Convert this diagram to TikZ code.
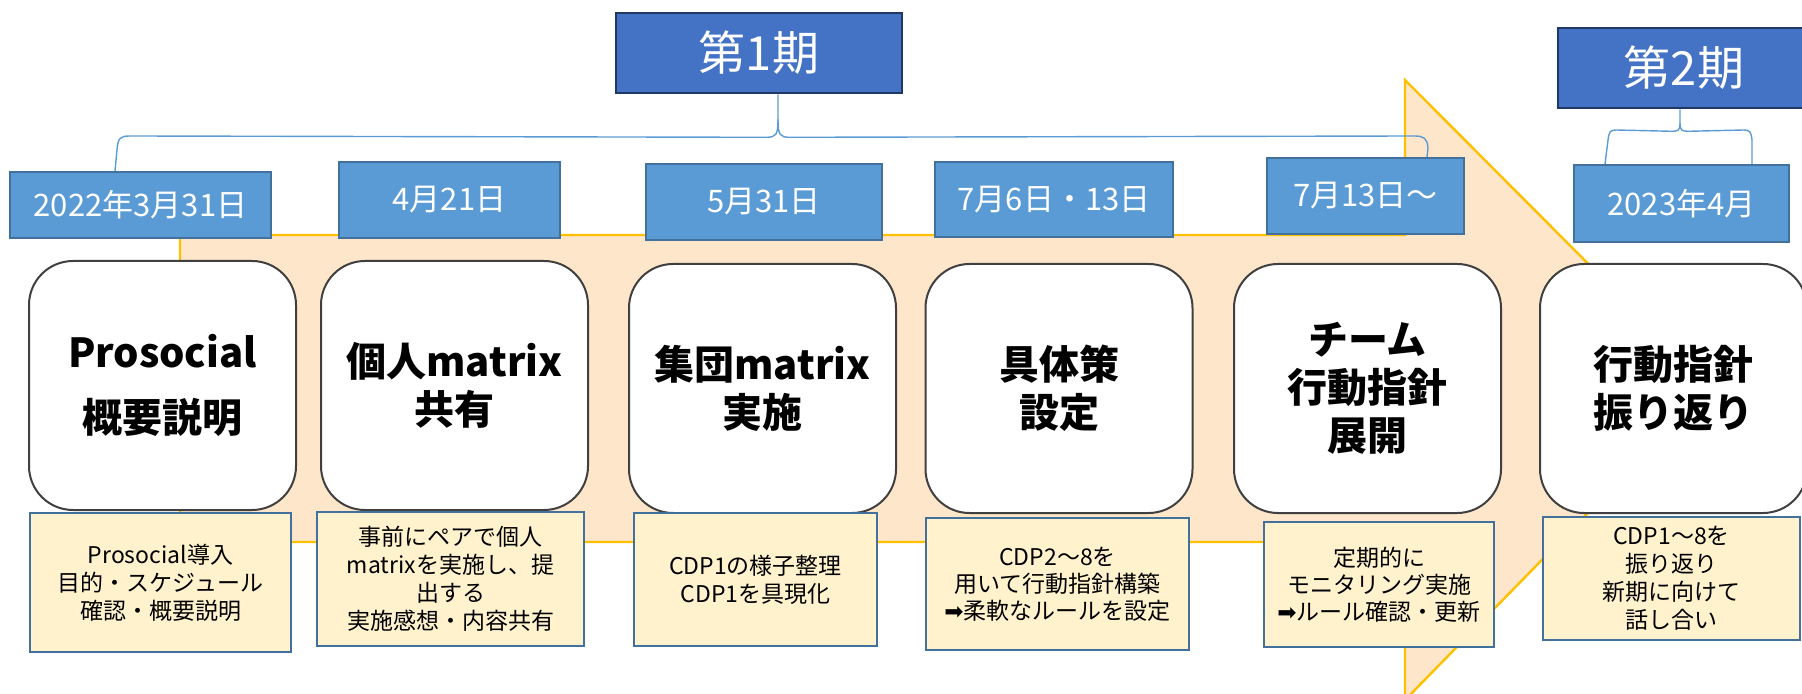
\documentclass[tikz,border=0pt]{standalone}
\usepackage{fontspec}
\setmainfont{Noto Sans CJK JP}
\newfontfamily\symfont{DejaVu Sans}
\usetikzlibrary{calc}
\definecolor{phasefill}{HTML}{4472C4}
\definecolor{phaseline}{HTML}{1F3864}
\definecolor{datefill}{HTML}{5B9BD5}
\definecolor{dateline}{HTML}{41719C}
\definecolor{notefill}{HTML}{FFF2CC}
\definecolor{noteline}{HTML}{41719C}
\definecolor{arrowfill}{HTML}{FDE6CA}
\definecolor{arrowline}{HTML}{FFC000}
\definecolor{stepline}{HTML}{404040}
\definecolor{braceline}{HTML}{5B9BD5}
\tikzset{
  phasebox/.style={draw=phaseline, line width=1.3pt, fill=phasefill, text=white, inner sep=0pt,
    minimum height=40pt, font=\fontsize{23.5}{26}\selectfont},
  datebox/.style={draw=dateline, line width=1pt, fill=datefill, text=white, inner sep=0pt,
    font=\fontsize{15.5}{18}\selectfont},
  stepbox/.style={draw=stepline, line width=1pt, fill=white, rounded corners=22pt, inner sep=0pt,
    minimum width=133.5pt, minimum height=124.5pt, align=center,
    font=\bfseries\fontsize{20}{24}\selectfont},
  notebox/.style={draw=noteline, line width=1pt, fill=notefill, inner sep=0pt, align=center,
    font=\fontsize{11.5}{14}\selectfont},
  bracepath/.style={draw=braceline, line width=0.7pt},
}
\begin{document}
\begin{tikzpicture}[x=0.5pt,y=-0.5pt]
\useasboundingbox (0,0) rectangle (1802,694);
% big arrow
\fill[arrowfill] (180,235) -- (1405,235) -- (1405,80) -- (1711,387) -- (1405,700) -- (1405,542) -- (180,542) -- cycle;
\draw[arrowline, line width=1.2pt, line join=miter] (180,542) -- (180,235) -- (1405,235) -- (1405,80) -- (1711,387) -- (1405,700) -- (1405,542) -- cycle;

% phase boxes
\node[phasebox, minimum width=143pt] (p1) at (759,53) {第1期};
\node[phasebox, minimum width=126pt] (p2) at (1684,68) {第2期};

% date boxes
\node[datebox, minimum width=130.5pt, minimum height=33pt] (d1) at (140.5,205) {2022年3月31日};
\node[datebox, minimum width=110.5pt, minimum height=38pt] (d2) at (449.5,200) {4月21日};
\node[datebox, minimum width=118pt, minimum height=38pt] (d3) at (764,202) {5月31日};
\node[datebox, minimum width=119pt, minimum height=37.5pt] (d4) at (1054,199.5) {7月6日・13日};
\node[datebox, minimum width=98.5pt, minimum height=38pt] (d5) at (1365.5,196) {7月13日〜};
\node[datebox, minimum width=107.5pt, minimum height=38.5pt] (d6) at (1681.5,203.5) {2023年4月};

% braces
\coordinate (t1) at ($(p1.south)+(19,25)$);
\draw[bracepath] ($(p1.south)+(19,0)$) -- (t1)
  .. controls ($(t1)+(0,16)$) and ($(t1)+(-2,18)$) .. ($(t1)+(-12,18)$) -- (130,136)
  .. controls (120,136) and (118,138) .. (117,150) -- ($(d1.north west)+(106,0)$);
\draw[bracepath] (t1)
  .. controls ($(t1)+(0,16)$) and ($(t1)+(2,18)$) .. ($(t1)+(12,18)$) -- (1414,136)
  .. controls (1424,136) and (1427,138) .. (1428,148) -- ($(d5.north west)+(161,0)$);
\coordinate (t2) at ($(p2.south)+(-4,14)$);
\draw[bracepath] ($(p2.south)+(-4,0)$) -- (t2)
  .. controls ($(t2)+(0,7)$) and ($(t2)+(-2,8)$) .. ($(t2)+(-8,8)$) -- (1616,130)
  .. controls (1610,130) and (1609,132) .. (1608,140) -- ($(d6.north west)+(32,0)$);
\draw[bracepath] (t2)
  .. controls ($(t2)+(0,7)$) and ($(t2)+(2,8)$) .. ($(t2)+(8,8)$) -- (1744,130)
  .. controls (1750,130) and (1751,132) .. (1752,140) -- ($(d6.north west)+(179,0)$);

% step boxes
\node[stepbox, font=\bfseries\fontsize{20}{32.5}\selectfont] (r1) at (162.5,385.5) {Prosocial\\概要説明};
\node[stepbox] (r2) at (454.5,385.5) {個人matrix\\共有};
\node[stepbox] (r3) at (762.5,388.5) {集団matrix\\実施};
\node[stepbox] (r4) at (1059,388.5) {具体策\\設定};
\node[stepbox] (r5) at (1367.5,388.5) {チーム\\行動指針\\展開};
\node[stepbox] (r6) at (1673.5,388.5) {行動指針\\振り返り};

% note boxes
\node[notebox, minimum width=130.5pt, minimum height=69.5pt] (n1) at (160.5,582.5) {Prosocial導入\\目的・スケジュール\\確認・概要説明};
\node[notebox, minimum width=133.5pt, minimum height=67pt] (n2) at (450.5,579) {事前にペアで個人\\matrixを実施し、提\\出する\\実施感想・内容共有};
\node[notebox, minimum width=121.5pt, minimum height=66.5pt] (n3) at (755.5,579.5) {CDP1の様子整理\\CDP1を具現化};
\node[notebox, minimum width=131.5pt, minimum height=66pt, font=\fontsize{11.5}{13.5}\selectfont] (n4) at (1057.5,584) {CDP2〜8を\\用いて行動指針構築\\{\symfont ➡}柔軟なルールを設定};
\node[notebox, minimum width=115pt, minimum height=62.5pt, font=\fontsize{11.5}{13.5}\selectfont] (n5) at (1379,584.5) {定期的に\\モニタリング実施\\{\symfont ➡}ルール確認・更新};
\node[notebox, minimum width=128.5pt, minimum height=61.5pt] (n6) at (1671.5,578.5) {CDP1〜8を\\振り返り\\新期に向けて\\話し合い};
\end{tikzpicture}
\end{document}
